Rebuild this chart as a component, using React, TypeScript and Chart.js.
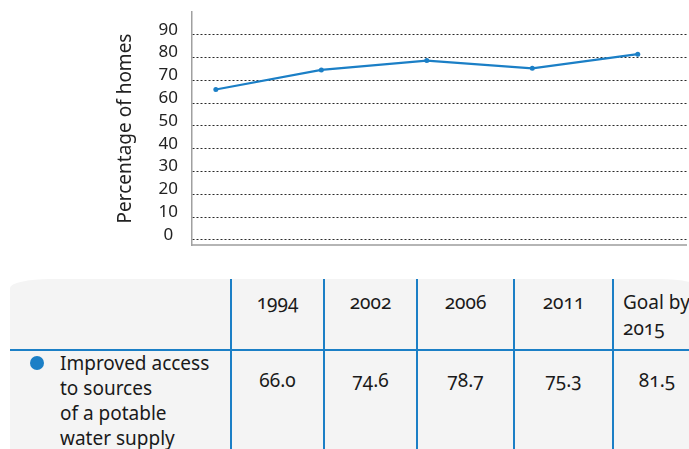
import React, { useEffect, useRef } from 'react';
import { Chart, registerables } from 'chart.js';

Chart.register(...registerables);
Chart.defaults.font.family = "'Noto Sans', sans-serif";
Chart.defaults.font.size = 16;

// ---- data ----
const categories = ['1994', '2002', '2006', '2011', 'Goal by 2015'];
const values = [66.0, 74.6, 78.7, 75.3, 81.5];
const yTickValues = [0, 10, 20, 30, 40, 50, 60, 70, 80, 90];
const seriesLines = ['Improved access', 'to sources', 'of a potable', 'water supply'];
const yTitle = 'Percentage of homes';

const BLUE = '#1b7fc6';
const TEXT = '#1a1a1a';
const FONT = "'Noto Sans', sans-serif";

const colWidths = [220, 93, 93, 97, 99, 88];

export default function App() {
  const canvasRef = useRef<HTMLCanvasElement | null>(null);

  useEffect(() => {
    if (!canvasRef.current) return;
    const chart = new Chart(canvasRef.current, {
      type: 'line',
      data: {
        datasets: [
          {
            label: seriesLines.join(' '),
            data: values.map((v, i) => ({ x: i, y: v })),
            borderColor: BLUE,
            backgroundColor: BLUE,
            borderWidth: 2.2,
            pointRadius: 2.5,
            pointHoverRadius: 2.5,
            pointBorderWidth: 0,
            tension: 0,
          },
        ],
      },
      options: {
        responsive: false,
        animation: false,
        events: [],
        layout: { padding: { left: 114, top: 12, right: 0, bottom: 5 } },
        plugins: { legend: { display: false }, tooltip: { enabled: false } },
        scales: {
          x: {
            type: 'linear',
            min: -0.226,
            max: 4.462,
            grid: { display: false },
            ticks: { display: false },
            border: { display: true, color: '#b5b5b5', width: 2 },
            afterFit: (s: any) => {
              s.height = 0;
              s.paddingLeft = 0;
              s.paddingRight = 0;
            },
          },
          y: {
            type: 'linear',
            min: -2.2,
            max: 100,
            afterBuildTicks: (s: any) => {
              s.ticks = yTickValues.map((v) => ({ value: v }));
            },
            grid: { color: '#2a2a2a', lineWidth: 1, drawTicks: false },
            border: { display: true, color: '#a0a0a0', width: 1.5, dash: [2, 2] },
            ticks: {
              font: { family: "'Noto Sans', sans-serif", size: 17 },
              color: '#222',
              padding: 14,
              crossAlign: 'center',
              labelOffset: -5,
              callback: (v: any) => String(v),
            },
            title: {
              display: true,
              text: yTitle,
              font: { family: "'Noto Sans', sans-serif", size: 19 },
              color: '#222',
              padding: 0,
            },
            afterFit: (s: any) => {
              s.width = 192 - 114;
              s.paddingTop = 0;
              s.paddingBottom = 0;
            },
          },
        },
      },
    } as any);
    return () => chart.destroy();
  }, []);

  const cellBase: React.CSSProperties = {
    boxSizing: 'border-box',
    color: TEXT,
    fontSize: 19,
    lineHeight: '25px',
  };

  return (
    <div
      style={{
        position: 'fixed',
        left: 0,
        top: 0,
        width: 689,
        height: 449,
        overflow: 'hidden',
        background: '#fff',
        fontFamily: FONT,
      }}
    >
      <canvas
        ref={canvasRef}
        width={689}
        height={250}
        style={{ position: 'absolute', left: 0, top: 0, display: 'block' }}
      />
      <div
        style={{
          position: 'absolute',
          left: 10,
          top: 279,
          display: 'grid',
          gridTemplateColumns: colWidths.map((w) => w + 'px').join(' '),
          gridTemplateRows: '72px 140px',
          background: '#f4f4f4',
          borderTopLeftRadius: '40px 9px',
          borderTopRightRadius: '40px 9px',
          overflow: 'hidden',
          fontVariantNumeric: 'oldstyle-nums',
        }}
      >
        <div style={{ ...cellBase, borderBottom: `2px solid ${BLUE}` }} />
        {categories.map((c, i) => {
          const last = i === categories.length - 1;
          return (
            <div
              key={'h' + i}
              style={{
                ...cellBase,
                borderLeft: `2px solid ${BLUE}`,
                borderBottom: `2px solid ${BLUE}`,
                paddingTop: 10,
                lineHeight: '26px',
                textAlign: last ? 'left' : 'center',
                paddingLeft: last ? 9 : 0,
              }}
            >
              {c}
            </div>
          );
        })}
        <div style={{ ...cellBase, position: 'relative', paddingLeft: 50 }}>
          <span
            style={{
              position: 'absolute',
              left: 20,
              top: 5,
              width: 14,
              height: 14,
              borderRadius: '50%',
              background: BLUE,
            }}
          />
          {seriesLines.map((l, i) => (
            <div key={'l' + i} style={{ whiteSpace: 'nowrap' }}>
              {l}
            </div>
          ))}
        </div>
        {values.map((v, i) => (
          <div
            key={'v' + i}
            style={{
              ...cellBase,
              borderLeft: `2px solid ${BLUE}`,
              paddingTop: 17,
              textAlign: 'center',
            }}
          >
            {v.toFixed(1)}
          </div>
        ))}
      </div>
    </div>
  );
}
